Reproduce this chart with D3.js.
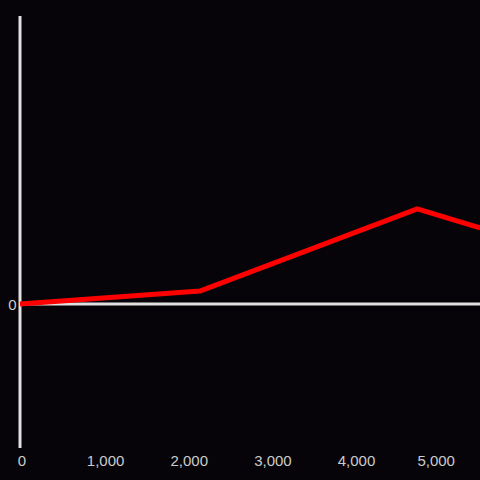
<!DOCTYPE html>
<html><head><meta charset="utf-8">
<script src="https://cdn.jsdelivr.net/npm/d3@7"></script>
<style>html,body{margin:0;padding:0;background:#060409;}svg{display:block;}</style>
</head><body>
<script>
const xValues = [0, 2150, 4750, 5500];
const yValues = [0, 4.5, 33, 26.4];
const xTicks = [0, 1000, 2000, 3000, 4000, 5000];
const yTicks = [0];

const W = 480, H = 480;
const svg = d3.select("body").append("svg").attr("width", W).attr("height", H);
svg.append("rect").attr("width", W).attr("height", H).attr("fill", "#060409");

const x = d3.scaleLinear().domain([0, 5500]).range([20, 480]);
const y = d3.scaleLinear().domain([-50, 100]).range([448, 16]);

svg.append("line").attr("x1", x(0)).attr("x2", x(0)).attr("y1", y(100)).attr("y2", y(-50))
  .attr("stroke", "#e0e0e0").attr("stroke-width", 3);
svg.append("line").attr("x1", x(0)).attr("x2", x(5500)).attr("y1", y(0)).attr("y2", y(0))
  .attr("stroke", "#e0e0e0").attr("stroke-width", 3);

svg.selectAll("text.xt").data(xTicks).enter().append("text")
  .attr("x", (d, i) => x(d) + (i === xTicks.length - 1 ? -2 : 2)).attr("y", 465.5)
  .attr("text-anchor", "middle").attr("fill", "#cccccc")
  .attr("font-family", "Liberation Sans, Arial, sans-serif").attr("font-size", 15)
  .text(d => d3.format(",")(d));

svg.selectAll("text.yt").data(yTicks).enter().append("text")
  .attr("x", 16.5).attr("y", d => y(d) + 5.5)
  .attr("text-anchor", "end").attr("fill", "#cccccc")
  .attr("font-family", "Liberation Sans, Arial, sans-serif").attr("font-size", 15)
  .text(d => d);

const pts = xValues.map((v, i) => [v, yValues[i]]);
svg.append("path").datum(pts)
  .attr("d", d3.line().x(d => x(d[0])).y(d => y(d[1])))
  .attr("fill", "none").attr("stroke", "#ff0000").attr("stroke-width", 5)
  .attr("stroke-linejoin", "round");
</script>
</body></html>
